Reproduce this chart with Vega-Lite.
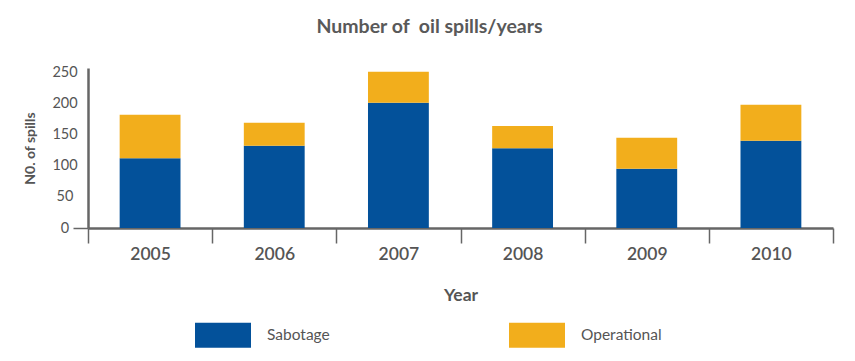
{
  "$schema": "https://vega.github.io/schema/vega-lite/v6.json",
  "width": 745,
  "height": 160,
  "autosize": "none",
  "padding": {"left": 88, "top": 68, "right": 22, "bottom": 133},
  "background": "white",
  "config": {"view": {"stroke": null}, "font": "Lato"},
  "title": {
    "text": "Number of \u00a0oil spills/years",
    "font": "Lato",
    "fontSize": 19.5,
    "fontWeight": "bold",
    "color": "#595959",
    "anchor": "middle",
    "frame": "group",
    "dx": -31,
    "baseline": "alphabetic",
    "offset": 12
  },
  "data": {
    "values": [
      {"year": "2005", "type": "Sabotage", "value": 112},
      {"year": "2005", "type": "Operational", "value": 70},
      {"year": "2006", "type": "Sabotage", "value": 132},
      {"year": "2006", "type": "Operational", "value": 37},
      {"year": "2007", "type": "Sabotage", "value": 201},
      {"year": "2007", "type": "Operational", "value": 50},
      {"year": "2008", "type": "Sabotage", "value": 128},
      {"year": "2008", "type": "Operational", "value": 36},
      {"year": "2009", "type": "Sabotage", "value": 95},
      {"year": "2009", "type": "Operational", "value": 50},
      {"year": "2010", "type": "Sabotage", "value": 140},
      {"year": "2010", "type": "Operational", "value": 58}
    ]
  },
  "mark": {"type": "bar", "width": {"band": 0.49}},
  "encoding": {
    "x": {
      "field": "year",
      "type": "ordinal",
      "scale": {"paddingInner": 0, "paddingOuter": 0},
      "axis": {
        "title": "Year",
        "tickBand": "extent",
        "labelAngle": 0,
        "labelFont": "Lato",
        "labelFontSize": 17.5,
        "labelFontWeight": 600,
        "labelColor": "#555555",
        "labelPadding": 2,
        "tickSize": 15,
        "tickColor": "#666666",
        "tickWidth": 1.5,
        "domainColor": "#666666",
        "domainWidth": 2.5,
        "titleFont": "Lato",
        "titleFontSize": 17.5,
        "titleFontWeight": "bold",
        "titleColor": "#555555",
        "titlePadding": 24
      }
    },
    "y": {
      "field": "value",
      "type": "quantitative",
      "aggregate": "sum",
      "stack": "zero",
      "scale": {"domain": [0, 257], "nice": false},
      "axis": {
        "title": "N0. of spills",
        "values": [0, 50, 100, 150, 200, 250],
        "grid": false,
        "labelFont": "Lato",
        "labelFontSize": 14.5,
        "labelColor": "#555555",
        "labelAlign": "center",
        "labelPadding": 8.5,
        "tickSize": 15,
        "tickWidth": 1.5,
        "tickColor": {"condition": {"test": "datum.value === 0", "value": "#666666"}, "value": "transparent"},
        "domainColor": "#666666",
        "domainWidth": 2.5,
        "titleFont": "Lato",
        "titleFontSize": 14,
        "titleFontWeight": "bold",
        "titleColor": "#555555",
        "titlePadding": 14
      }
    },
    "color": {
      "field": "type",
      "type": "nominal",
      "sort": ["Sabotage", "Operational"],
      "scale": {"domain": ["Sabotage", "Operational"], "range": ["#03519a", "#f2ae1c"]},
      "legend": {
        "title": null,
        "orient": "none",
        "legendX": 107,
        "legendY": 239,
        "direction": "horizontal",
        "padding": 0,
        "symbolType": "M-1,-0.446H1V0.446H-1Z",
        "symbolSize": 3136,
        "symbolStrokeWidth": 0,
        "symbolOpacity": 1,
        "labelFont": "Lato",
        "labelFontSize": 15.5,
        "labelColor": "#555555",
        "labelOffset": 16,
        "columnPadding": 179
      }
    }
  }
}
